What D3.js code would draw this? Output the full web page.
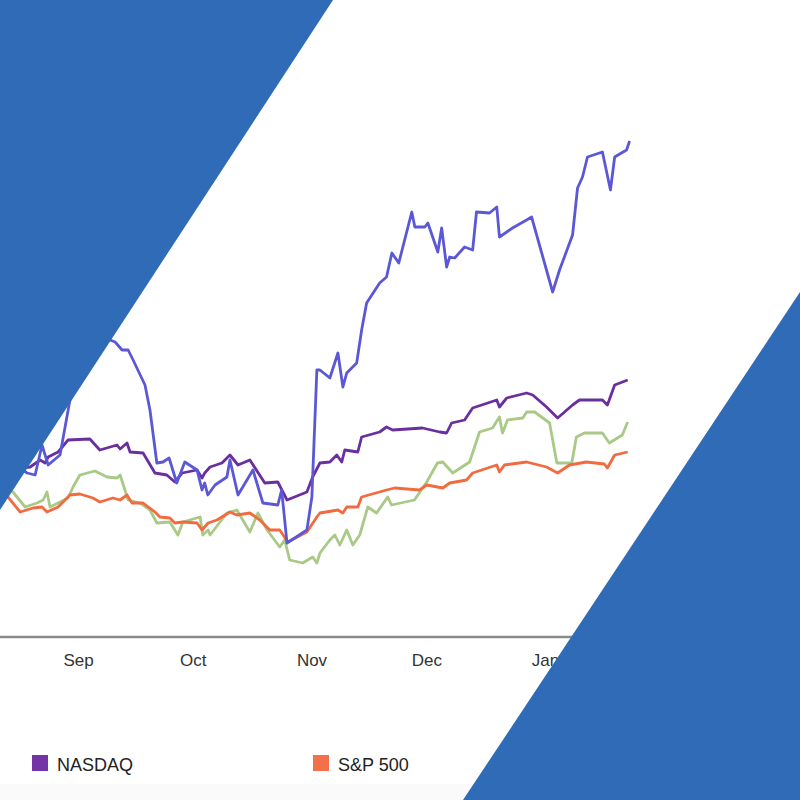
<!DOCTYPE html>
<html><head><meta charset="utf-8">
<script src="https://cdn.jsdelivr.net/npm/d3@7"></script>
<style>body{margin:0;background:#fff}svg{display:block}</style>
</head><body>
<svg id="c" width="800" height="800"></svg>
<script>
// days since Sep 1, and % change
const monthTickDays = [0, 30, 61, 91, 122];
const monthTickLabels = ["Sep", "Oct", "Nov", "Dec", "Jan"];

const blueDays = [-20.4,-16.4,-13.3,-11.2,-9.4,-7.8,-4.7,-2.1,1.8,5.7,8.4,9.7,11.5,13.1,14.4,17.5,18.8,20.6,22.2,23.8,25.8,27.9,31.1,32.4,33.1,33.9,35.8,38.9,39.7,41.8,45.7,48.3,52.2,53.2,54.6,59.8,61.1,62.4,63.2,65.8,67.9,69.2,70.2,72.8,74.1,75.4,78.8,80.6,82.0,83.8,87.2,88.0,90.6,91.4,94.0,95.0,96.3,97.1,98.4,101.0,103.1,104.1,107.5,109.4,110.1,113.5,117.2,118.5,124.0,125.8,129.2,130.5,131.8,133.1,137.0,139.1,140.2,143.3,144.1];
const blueVals = [4,4.5,3.7,3.5,6.5,4.5,5.5,11,15,16.8,17,16.8,16,16,15,12.5,10,4.7,4.8,5.2,2.7,4.8,4,2,2.7,1.5,2.5,3.3,5,1.5,4,0.7,0.5,2,-3.3,-2,1.3,14,14,13.2,15.7,12.3,13.7,14.7,18,20.7,22.7,23.3,25.7,24.7,29.8,28.3,28.3,28.7,25.8,28.2,24.3,25.3,25.2,26.3,26,29.8,29.7,30.3,27.3,28.2,29,29.3,21.8,24,27.5,32.2,33.3,35.3,35.8,32,35.3,36,36.9];

const nasdaqDays = [-20.4,-15.1,-12.5,-9.9,-8.6,-7.8,-5.2,-2.6,3.1,5.7,8.4,10.2,11,12.8,13.6,17,20.1,23.2,25.3,27.2,31.1,32.4,33.1,34.5,37.6,39.7,41.8,44.9,48.8,52.2,54.6,59.8,61.3,63.2,65.8,67.6,68.9,69.7,73.1,74.1,78.8,80.6,82.2,90,94.5,96.3,97.6,101,103.1,109.4,110.1,112,117.2,118.8,122.4,125.3,129.2,131,137,138.3,140.2,143.6];
const nasdaqVals = [4,4.2,4.3,5,4.7,5.3,5.8,7,7.1,6,6.3,6.5,6.1,6.7,5.8,5.7,3.7,3.5,2.8,3.7,4,3.2,3.7,4.3,4.7,5.5,4.5,5,2.7,2.8,1,1.8,3.3,4.7,4.8,5.5,4.8,6,5.8,7.3,7.8,8.3,8,8.2,7.8,7.7,8.7,9,10.2,11,10.3,11.2,11.7,11.5,10.3,9.2,10.5,11,11,10.5,12.5,13];

const spDays = [-20.4,-18.3,-15.1,-11.7,-9.4,-8.1,-5.2,-2.1,0.5,3.9,5.7,9.1,11,12.8,14.1,17,20.1,21.4,24,25.3,27.4,31.1,32.4,34,36.3,39.7,41.5,44.9,47.5,50.1,52.7,54.8,59.8,62.4,63.2,67.9,69.2,70.2,73.1,74.1,80.6,82.7,89.2,91.1,95.3,97.1,101.5,103.1,109.4,110.1,111.4,117.2,122.4,125.3,128.4,132.8,137.5,138.3,140.2,143.6];
const spVals = [2,1.3,-0.2,0.2,0.3,-0.2,0.3,1.5,1.6,1.2,0.8,1.2,1,1.5,0.7,0.7,-0.2,-0.7,-0.8,-1.3,-1.2,-1.3,-2,-1.3,-1,-0.2,-0.5,-0.3,-1,-2,-2,-3.2,-2.2,-0.7,-0.3,0,-0.3,0.3,0.3,1.3,2,2.2,2,2.5,2.2,2.7,3,3.7,4.5,3.8,4.5,4.8,4.3,3.7,4.5,4.8,4.6,4.2,5.5,5.8];

const greenDays = [-20.4,-17,-13.8,-10.7,-9.1,-8.1,-7.3,-2.6,-1.3,0.5,4.4,7.6,10.2,11,13.1,16.2,18.8,20.6,24,26.1,27.4,31.9,32.6,34,34.5,38.9,41.5,44.9,47,49.4,52.7,54.0,55.3,58.7,61.3,62.4,63.2,65.8,67.1,68.4,70.2,71.8,73.6,75.7,78,80.9,81.9,87.9,91.1,93.9,95.3,97.9,102.3,104.9,108.3,110.1,110.9,112.2,116.2,117.2,119.3,123.2,125.1,129,130.2,132.3,137,138.8,142.2,143.6];
const greenVals = [3,1.8,0.3,0.7,1,1.8,0.3,1.2,2.3,3.5,3.9,3.3,3.2,3.5,1,0.7,0,-1.3,-1.2,-2.5,-1.2,-0.7,-2.5,-2,-2.5,-0.3,0,-2.2,-0.3,-2,-3.7,-3,-5,-5.3,-4.7,-5.3,-4.3,-3,-2.5,-3.5,-2,-3.5,-2.5,0.3,-0.3,1.3,0.5,1,2.8,4.7,4.8,3.7,4.8,7.8,8.2,9.3,7.7,9,9.2,9.8,9.8,8.7,4.7,4.7,7.3,7.7,7.7,6.7,7.5,8.8];

const legendLabels = ["NASDAQ", "S&P 500"];

const svg = d3.select("#c");
svg.append("rect").attr("width",800).attr("height",800).attr("fill","#fff");
svg.append("rect").attr("y",784).attr("width",800).attr("height",16).attr("fill","#fafafa");

const x = d3.scaleLinear().domain([0,122]).range([78,545]);
const y = d3.scaleLinear().domain([0,10]).range([510,410]);

// axis
const ax = svg.append("g").attr("transform","translate(0,637)")
  .call(d3.axisBottom(x).tickValues(monthTickDays).tickFormat((d,i)=>monthTickLabels[i]).tickSize(0).tickPadding(17));
ax.select(".domain").remove();
ax.append("line").attr("x1",0).attr("x2",800).attr("stroke","#8a8a8a").attr("stroke-width",2.5);
ax.selectAll("text").attr("font-family","Liberation Sans, Arial, sans-serif").attr("font-size",17).attr("fill","#333");

const line = d3.line().x(d=>x(d[0])).y(d=>y(d[1]));
const series = [
  {d:d3.zip(greenDays,greenVals), c:"#a9c986"},
  {d:d3.zip(spDays,spVals), c:"#f26a40"},
  {d:d3.zip(nasdaqDays,nasdaqVals), c:"#6a2f9f"},
  {d:d3.zip(blueDays,blueVals), c:"#5b58d6"}
];
series.forEach(s=>{
  svg.append("path").datum(s.d).attr("d",line).attr("fill","none")
    .attr("stroke",s.c).attr("stroke-width",2.8).attr("stroke-linejoin","round");
});

// legend
const lg = svg.append("g");
const lx = [32, 313], lc = ["#7434a6", "#f4704b"];
legendLabels.forEach((t,i)=>{
  lg.append("rect").attr("x",lx[i]).attr("y",755).attr("width",16).attr("height",16).attr("fill",lc[i]);
  lg.append("text").attr("x",lx[i]+25).attr("y",771).text(t)
    .attr("font-family","Liberation Sans, Arial, sans-serif").attr("font-size",18).attr("fill","#222");
});

// overlay shapes
svg.append("polygon").attr("points","0,0 333,0 0,510").attr("fill","#2f6bb6");
svg.append("polygon").attr("points","800,292 800,800 463,800").attr("fill","#2f6bb6");
</script>
</body></html>
